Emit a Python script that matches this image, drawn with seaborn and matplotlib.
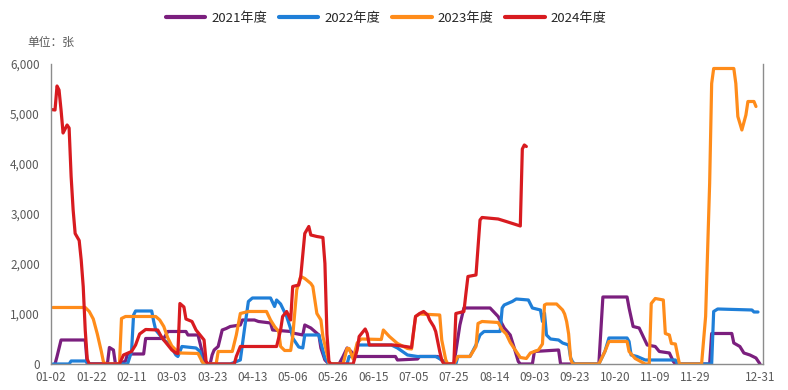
import pandas as pd
import numpy as np
import matplotlib
matplotlib.use('Agg')
import matplotlib.pyplot as plt
import seaborn as sns

# trading-day axis (holidays removed), x values below are positions on it
dates = pd.date_range('2023-01-02', '2023-12-31')
holidays = ['2023-04-05', '2023-05-01', '2023-05-02', '2023-05-03',
            '2023-10-01', '2023-10-02', '2023-10-03', '2023-10-04',
            '2023-10-05', '2023-10-06', '2023-10-07']
dates = dates[~dates.isin(pd.to_datetime(holidays))]
date_labels = [d.strftime('%m-%d') for d in dates]

years = ['2021年度', '2022年度', '2023年度', '2024年度']

pos_2021 = [2, 3, 5, 17, 18, 28, 29, 31, 32, 34, 37, 38, 46, 47, 56, 58, 67, 68, 73, 75, 76, 79, 80, 81, 83, 85,
            87, 89, 94, 95, 101, 103, 109, 110, 119, 120, 125, 126, 129, 131, 133, 134, 136, 138, 143, 145, 147,
            149, 151, 171, 172, 182, 183, 192, 194, 196, 200, 201, 203, 205, 218, 222, 225, 228, 230, 232, 233,
            239, 240, 252, 253, 272, 274, 286, 287, 289, 292, 294, 296, 300, 302, 307, 309, 310, 327, 328, 338,
            339, 342, 344, 347, 350, 352]
val_2021 = [0, 150, 480, 480, 0, 0, 330, 280, 0, 0, 60, 200, 200, 510, 510, 650, 650, 580, 580, 250, 0, 0, 180,
            280, 350, 680, 710, 750, 780, 880, 880, 850, 820, 680, 650, 620, 580, 780, 720, 650, 580, 320, 80, 0,
            0, 150, 320, 250, 150, 150, 80, 100, 150, 150, 80, 0, 0, 250, 780, 1120, 1120, 950, 720, 580, 320, 50,
            0, 0, 250, 280, 0, 0, 1340, 1340, 1120, 750, 720, 550, 380, 350, 250, 220, 50, 0, 0, 610, 610, 420,
            350, 220, 180, 120, 0]

pos_2022 = [1, 9, 10, 17, 19, 38, 40, 41, 42, 50, 51, 52, 54, 56, 58, 60, 62, 63, 65, 72, 74, 75, 76, 89, 94,
            96, 98, 100, 109, 111, 112, 114, 117, 119, 120, 123, 125, 126, 133, 134, 136, 138, 147, 148, 151, 152,
            169, 172, 177, 182, 191, 194, 196, 201, 202, 208, 211, 213, 215, 223, 224, 225, 229, 231, 237, 239,
            243, 244, 245, 246, 248, 252, 254, 257, 258, 259, 260, 272, 275, 277, 286, 287, 288, 291, 295, 310,
            311, 328, 329, 331, 348, 349, 351]
val_2022 = [0, 0, 60, 60, 0, 0, 250, 980, 1060, 1060, 850, 680, 580, 480, 420, 320, 180, 150, 350, 320, 250, 50,
            0, 0, 80, 680, 1250, 1320, 1320, 1150, 1280, 1200, 950, 700, 520, 340, 320, 580, 580, 420, 120, 0, 0,
            150, 150, 380, 380, 320, 180, 150, 150, 80, 0, 0, 150, 150, 380, 580, 650, 650, 1120, 1180, 1250,
            1300, 1280, 1120, 1080, 850, 1020, 580, 500, 480, 420, 380, 120, 40, 0, 0, 250, 520, 520, 450, 180,
            150, 80, 80, 0, 0, 1050, 1100, 1080, 1040, 1040]

pos_2023 = [1, 17, 19, 21, 23, 25, 26, 27, 34, 35, 37, 52, 54, 56, 58, 60, 62, 64, 73, 75, 76, 82, 83, 90, 92,
            94, 98, 107, 109, 111, 113, 114, 116, 119, 120, 122, 124, 126, 129, 130, 132, 134, 135, 137, 138, 139,
            145, 147, 148, 150, 152, 154, 164, 165, 168, 172, 175, 177, 179, 181, 183, 193, 194, 196, 197, 200,
            202, 208, 211, 212, 214, 222, 224, 226, 228, 231, 233, 236, 238, 242, 244, 245, 246, 251, 254, 255,
            256, 257, 258, 259, 272, 275, 277, 286, 287, 290, 295, 297, 298, 300, 304, 305, 307, 308, 310, 312,
            323, 325, 326, 327, 328, 329, 339, 340, 341, 343, 345, 346, 349, 350]
val_2023 = [1130, 1130, 1050, 900, 600, 250, 50, 0, 0, 910, 950, 950, 880, 750, 520, 360, 280, 220, 210, 50, 0,
            0, 250, 250, 580, 1010, 1050, 1050, 880, 750, 650, 350, 270, 270, 550, 1480, 1750, 1710, 1610, 1550,
            1010, 880, 550, 210, 30, 0, 0, 310, 310, 100, 420, 500, 490, 680, 550, 410, 350, 310, 300, 950, 1000,
            980, 480, 80, 0, 0, 150, 150, 350, 810, 850, 830, 680, 600, 430, 250, 130, 110, 220, 280, 400, 1180,
            1200, 1200, 1080, 1000, 850, 600, 100, 0, 0, 250, 450, 450, 250, 110, 0, 0, 1210, 1310, 1280, 610,
            580, 410, 400, 0, 0, 950, 2280, 3610, 5610, 5910, 5910, 5610, 4950, 4680, 4980, 5250, 5250, 5150]

pos_2024 = [0, 2, 3, 4, 5, 6, 7, 8, 9, 10, 11, 12, 14, 15, 16, 17, 18, 19, 34, 36, 40, 42, 44, 47, 53, 55, 58,
            60, 62, 63, 64, 66, 67, 70, 72, 74, 76, 77, 78, 91, 92, 94, 112, 114, 115, 117, 119, 120, 123, 124,
            126, 128, 129, 132, 135, 136, 137, 138, 139, 150, 152, 153, 156, 157, 158, 170, 176, 179, 180, 181,
            183, 185, 187, 188, 190, 191, 192, 193, 194, 195, 200, 201, 203, 205, 206, 207, 211, 213, 214, 222,
            226, 233, 234, 235, 236]
val_2024 = [5090, 5080, 5560, 5480, 5080, 4620, 4700, 4780, 4720, 3750, 3080, 2610, 2470, 2080, 1550, 680, 100,
            0, 0, 180, 250, 380, 600, 690, 680, 530, 380, 280, 220, 210, 1210, 1140, 900, 850, 680, 580, 480, 50,
            0, 0, 150, 350, 350, 680, 950, 1050, 880, 1550, 1580, 1750, 2610, 2750, 2580, 2550, 2530, 2010, 600,
            50, 0, 0, 280, 550, 700, 610, 380, 380, 350, 330, 650, 950, 1010, 1050, 980, 880, 750, 650, 450, 250,
            80, 0, 0, 1010, 1030, 1050, 1410, 1750, 1780, 2880, 2930, 2900, 2850, 2760, 4300, 4380, 4350]

colors = ['#7B1F7E', '#1F7FD8', '#FF8C1A', '#D81B20']

frames = []
for year, pos, val in zip(years, [pos_2021, pos_2022, pos_2023, pos_2024],
                          [val_2021, val_2022, val_2023, val_2024]):
    frames.append(pd.DataFrame({'pos': pos, 'value': val, 'year': year}))
df = pd.concat(frames, ignore_index=True)

sns.set_style('white')
plt.rcParams['font.family'] = ['Noto Sans CJK SC', 'DejaVu Sans']

fig = plt.figure(figsize=(7.88, 3.9), dpi=100)
ax = fig.add_axes([0.0647, 0.0667, 0.9036, 0.7692])

sns.lineplot(data=df, x='pos', y='value', hue='year', palette=colors, hue_order=years,
             estimator=None, sort=False, linewidth=2.3, ax=ax, legend=False)

ax.set_xlim(0, 353.5)
ax.set_ylim(0, 6000)
ax.set_yticks(range(0, 6001, 1000))
ax.set_yticklabels([f'{v:,}' for v in range(0, 6001, 1000)])

ticks = list(range(0, 341, 20)) + [352]
labels = [date_labels[t] for t in ticks]
labels[-2] = ''
ax.set_xticks(ticks)
ax.set_xticklabels(labels)
ax.set_xlabel('')
ax.set_ylabel('')

for side in ['left', 'bottom', 'right']:
    ax.spines[side].set_color('#8c8c8c')
    ax.spines[side].set_linewidth(1)
ax.spines['top'].set_visible(False)
ax.tick_params(axis='both', direction='in', length=4, width=1, color='#404040',
               labelsize=8.5, labelcolor='#595959')
ax.tick_params(axis='y', pad=8)
ax.tick_params(axis='x', pad=5)

handles = [plt.Line2D([], [], color=c, linewidth=3) for c in colors]
fig.legend(handles, years, loc='upper center', bbox_to_anchor=(0.49, 1.0), ncol=4, frameon=False,
           fontsize=9.5, handlelength=3.0, handletextpad=0.45, columnspacing=0.9)

fig.text(27 / 788, 1 - 42 / 390, '单位：张', fontsize=8.5, color='#595959', va='center', ha='left')

fig.savefig('out.png', dpi=100)
